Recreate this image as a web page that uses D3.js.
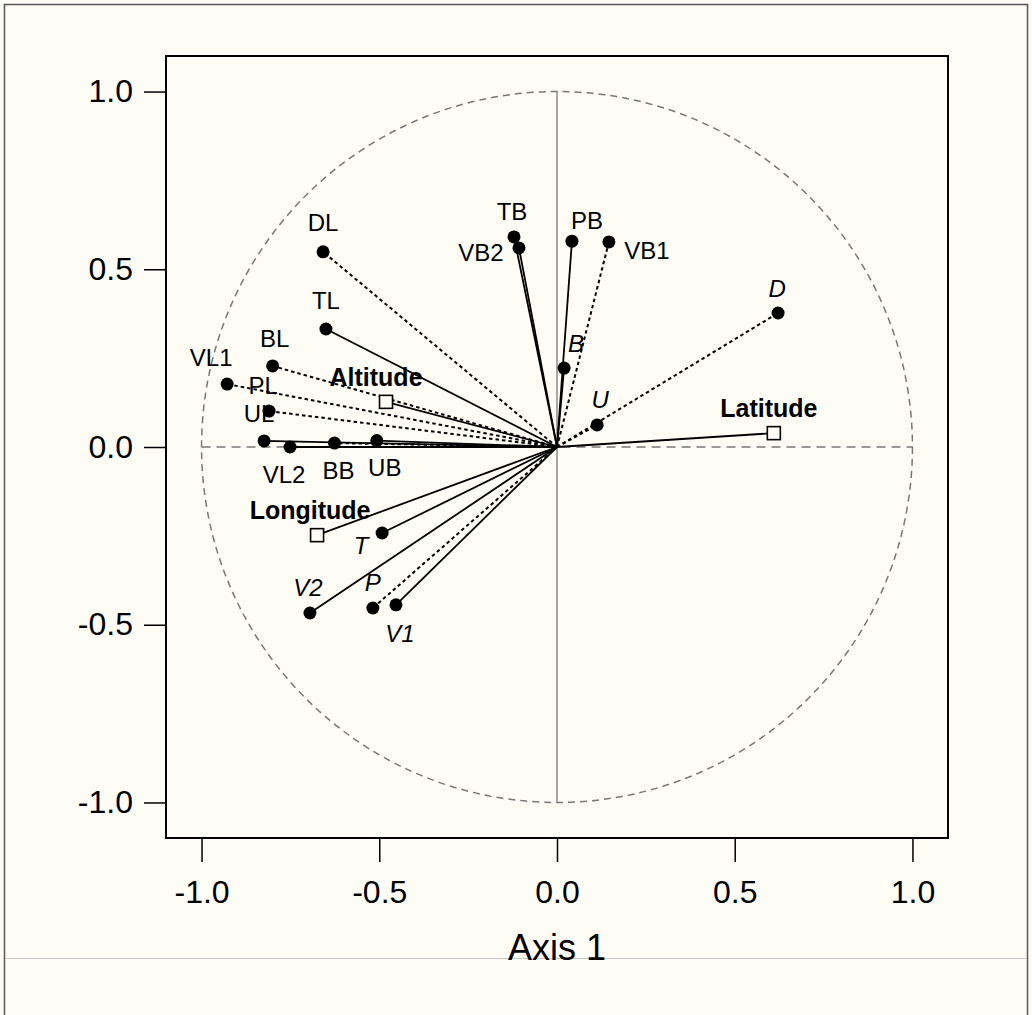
<!DOCTYPE html>
<html><head><meta charset="utf-8">
<script src="https://cdn.jsdelivr.net/npm/d3@7"></script>
<style>
html,body{margin:0;padding:0;background:#fefdf5;}
svg{display:block;font-family:Arial,"Liberation Sans",Helvetica,sans-serif;}
</style></head>
<body>
<svg id="chart" width="1032" height="1015"></svg>
<script>
// ---- data ----
const varNames = ["DL","TL","BL","VL1","PL","UL","VL2","BB","UB","TB","VB2","PB","VB1","B","U","D","T","V2","P","V1"];
const varX =     [-0.658,-0.650,-0.800,-0.928,-0.810,-0.824,-0.751,-0.626,-0.507,-0.121,-0.107,0.042,0.146,0.020,0.113,0.622,-0.492,-0.695,-0.518,-0.453];
const varY =     [0.549,0.332,0.228,0.177,0.101,0.017,0.000,0.011,0.018,0.591,0.560,0.579,0.577,0.222,0.062,0.377,-0.242,-0.467,-0.453,-0.444];
const varDotted = [true,false,true,true,true,false,false,true,false,false,false,false,true,false,true,true,false,false,true,false];
const varItalic = [false,false,false,false,false,false,false,false,false,false,false,false,false,true,true,true,true,true,true,true];

const suppNames = ["Altitude","Latitude","Longitude"];
const suppX = [-0.481,0.610,-0.675];
const suppY = [0.127,0.039,-0.248];

const tickValues = [-1.0,-0.5,0.0,0.5,1.0];
const xTitle = "Axis 1";

// ---- layout (label offsets in px, not data) ----
const varLabelOffsets = [[0,-29],[0,-28],[2,-27],[-16,-27],[-6,-26],[-5,-27],[-6,27],[4,27],[8,27],[-2,-25],[-38,5],[15,-21],[38,9],[12,-25],[3,-25],[-1,-24],[-21,12],[-2,-25],[0,-26],[4,29]];
const suppLabelOffsets = [[-10,-25],[-5,-25],[-7,-25]];

const svg = d3.select("#chart");
const W = 1032, H = 1015;
const plot = {left:166, right:948, top:56, bottom:838};

const x = d3.scaleLinear().domain([-1.1,1.1]).range([plot.left, plot.right]);
const y = d3.scaleLinear().domain([-1.1,1.1]).range([plot.bottom, plot.top]);

// outer frame
svg.append("rect").attr("width",W).attr("height",H).attr("fill","#fefdf5");
svg.append("path").attr("d",`M4.5,${H} V4.5 H1027.5 V${H}`).attr("fill","none").attr("stroke","#555").attr("stroke-width",1.5);
svg.append("line").attr("x1",5).attr("x2",1027).attr("y1",958.5).attr("y2",958.5).attr("stroke","#c8c8c8").attr("stroke-width",1.2);

// plot box
svg.append("rect").attr("x",plot.left).attr("y",plot.top).attr("width",plot.right-plot.left).attr("height",plot.bottom-plot.top)
  .attr("fill","none").attr("stroke","#000").attr("stroke-width",2);

// axes
const xAxis = d3.axisBottom(x).tickValues(tickValues).tickFormat(d3.format(".1f")).tickSize(24).tickPadding(18);
const gx = svg.append("g").attr("transform",`translate(0,${plot.bottom})`).call(xAxis);
const yAxis = d3.axisLeft(y).tickValues(tickValues).tickFormat(d3.format(".1f")).tickSize(22).tickPadding(11);
const gy = svg.append("g").attr("transform",`translate(${plot.left},0)`).call(yAxis);
[gx,gy].forEach(g=>{
  g.select(".domain").remove();
  g.selectAll(".tick line").attr("stroke","#000").attr("stroke-width",1.5);
  g.selectAll(".tick text").attr("font-size",32).attr("fill","#000").attr("font-family","Arial,'Liberation Sans',sans-serif");
});
gx.selectAll(".tick text").text(d=>d3.format(".1f")(d).replace("−","-"));
gy.selectAll(".tick text").text(d=>d3.format(".1f")(d).replace("−","-"));

svg.append("text").attr("x",x(0)).attr("y",960).attr("text-anchor","middle").attr("font-size",36).attr("fill","#000").text(xTitle);

// unit circle & axes through origin
svg.append("circle").attr("cx",x(0)).attr("cy",y(0)).attr("r",x(1)-x(0))
  .attr("fill","none").attr("stroke","#777").attr("stroke-width",1.5).attr("stroke-dasharray","7,5");
svg.append("line").attr("x1",x(-1)).attr("x2",x(1)).attr("y1",y(0)).attr("y2",y(0))
  .attr("stroke","#777").attr("stroke-width",1.5).attr("stroke-dasharray","9,6");
svg.append("line").attr("x1",x(0)).attr("x2",x(0)).attr("y1",y(1)).attr("y2",y(-1))
  .attr("stroke","#888").attr("stroke-width",1.5);

// variable vectors
const vars = varNames.map((n,i)=>({name:n,x:varX[i],y:varY[i],dotted:varDotted[i],italic:varItalic[i],off:varLabelOffsets[i]}));
const supp = suppNames.map((n,i)=>({name:n,x:suppX[i],y:suppY[i],off:suppLabelOffsets[i]}));

svg.append("g").selectAll("line").data(supp).join("line")
  .attr("x1",x(0)).attr("y1",y(0)).attr("x2",d=>x(d.x)).attr("y2",d=>y(d.y))
  .attr("stroke","#000").attr("stroke-width",1.8);

svg.append("g").selectAll("line").data(vars).join("line")
  .attr("x1",x(0)).attr("y1",y(0)).attr("x2",d=>x(d.x)).attr("y2",d=>y(d.y))
  .attr("stroke","#000").attr("stroke-width",d=>d.dotted?2:1.8)
  .attr("stroke-dasharray",d=>d.dotted?"3.5,3":null);

svg.append("g").selectAll("circle").data(vars).join("circle")
  .attr("cx",d=>x(d.x)).attr("cy",d=>y(d.y)).attr("r",6.5).attr("fill","#000");

const sq = 13;
svg.append("g").selectAll("rect").data(supp).join("rect")
  .attr("x",d=>x(d.x)-sq/2).attr("y",d=>y(d.y)-sq/2).attr("width",sq).attr("height",sq)
  .attr("fill","#fefdf5").attr("stroke","#000").attr("stroke-width",1.6);

svg.append("g").selectAll("text").data(vars).join("text")
  .attr("x",d=>x(d.x)+d.off[0]).attr("y",d=>y(d.y)+d.off[1])
  .attr("text-anchor","middle").attr("dominant-baseline","central")
  .attr("font-size",24).attr("font-style",d=>d.italic?"italic":"normal").attr("fill","#000")
  .text(d=>d.name);

svg.append("g").selectAll("text").data(supp).join("text")
  .attr("x",d=>x(d.x)+d.off[0]).attr("y",d=>y(d.y)+d.off[1])
  .attr("text-anchor","middle").attr("dominant-baseline","central")
  .attr("font-size",25).attr("font-weight","bold").attr("fill","#000")
  .text(d=>d.name);
</script>
</body></html>
